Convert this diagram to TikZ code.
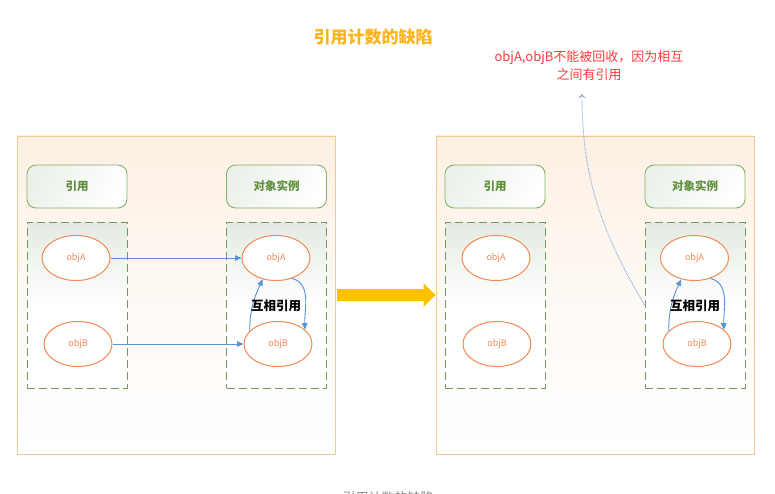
\documentclass[tikz,border=0pt]{standalone}
\usepackage{fontspec}
\setmainfont{Noto Sans CJK SC}
\usetikzlibrary{arrows.meta,shapes.geometric}
\definecolor{outerline}{HTML}{F2C98E}
\definecolor{peach}{HTML}{FDF0E3}
\definecolor{grn}{HTML}{82B366}
\definecolor{grntext}{HTML}{5E8F3C}
\definecolor{grnfill}{HTML}{E3EBE1}
\definecolor{dashgrn}{HTML}{6F9A5F}
\definecolor{orng}{HTML}{F48A52}
\definecolor{orngtext}{HTML}{F08A55}
\definecolor{blu}{HTML}{5A92D6}
\definecolor{dotblu}{HTML}{7FA6DE}
\definecolor{gold}{HTML}{FFC000}
\definecolor{titleorange}{HTML}{FFB31A}
\definecolor{notered}{HTML}{FF3B3B}
\definecolor{capgray}{HTML}{8A8A8A}
\tikzset{
  x=1pt, y=-1pt,
  outerbox/.style={draw=outerline, line width=0.9pt, top color=peach, bottom color=white, middle color=peach!40,
    minimum width=318pt, minimum height=318pt, inner sep=0pt},
  headbox/.style={draw=grn, line width=0.9pt, rounded corners=9pt, left color=grnfill!70, right color=white, shading angle=60,
    minimum width=100pt, minimum height=43pt, inner sep=0pt, font=\fontsize{11.5}{13}\selectfont\bfseries, text=grntext},
  dashbox/.style={draw=dashgrn, line width=0.9pt, dash pattern=on 8pt off 4pt, top color=grnfill, bottom color=white, middle color=white,
    minimum width=100pt, minimum height=166pt, inner sep=0pt},
  objell/.style={ellipse, draw=orng, line width=1pt, fill=white, minimum width=68pt, minimum height=45pt, inner sep=0pt,
    font=\fontsize{9}{10}\selectfont, text=orngtext},
  link/.style={draw=blu, line width=0.9pt, -{Triangle[length=6.5pt,width=5.5pt]}},
  mutual/.style={font=\fontsize{12.5}{14}\selectfont\bfseries, text=black},
  bigarrow/.style={draw=gold, line width=12pt, -{Triangle[length=12pt,width=23pt]}, shorten <=2pt},
  note/.style={font=\fontsize{13}{18}\selectfont, text=notered, align=center},
  dotlink/.style={draw=dotblu, line width=0.9pt, dash pattern=on 1pt off 1pt, -{To[length=4pt,width=7pt]}},
}
\begin{document}
\begin{tikzpicture}
\useasboundingbox (0,0) rectangle (775,494);
% panels
\node[outerbox] (oL) at (176,295) {};
\node[outerbox] (oR) at (595,295) {};
% left panel
\node[headbox] (hL1) at (77,186.5) {引用};
\node[headbox] (hL2) at (276.5,186.5) {对象实例};
\node[dashbox] (dL1) at (77,305) {};
\node[dashbox] (dL2) at (276.5,305) {};
\node[objell] (rAL) at (76,258) {objA};
\node[objell] (rBL) at (78,344) {objB};
\node[objell] (iAL) at (276,258) {objA};
\node[objell] (iBL) at (278,344) {objB};
\draw[link] (rAL) -- (iAL);
\draw[link] (rBL) -- (iBL);
\draw[link] (iAL.-52) to[out=-15,in=92] (iBL.28);
\draw[link] (iBL.155) to[out=90,in=-115] (iAL.-122);
\node[mutual] (mL) at (276,306) {互相引用};
% right panel
\node[headbox] (hR1) at (495,186.5) {引用};
\node[headbox] (hR2) at (695,186.5) {对象实例};
\node[dashbox] (dR1) at (495,305) {};
\node[dashbox] (dR2) at (695,305) {};
\node[objell] (rAR) at (496,258) {objA};
\node[objell] (rBR) at (497,344) {objB};
\node[objell] (iAR) at (694.5,258) {objA};
\node[objell] (iBR) at (697,344) {objB};
\draw[link] (iAR.-52) to[out=-15,in=92] (iBR.28);
\draw[link] (iBR.155) to[out=90,in=-115] (iAR.-122);
\node[mutual] (mR) at (695,306) {互相引用};
% big arrow
\draw[bigarrow] (oL.east) -- (oR.west);
% title and note
\node[font=\fontsize{17}{20}\selectfont\bfseries, text=titleorange] (title) at (373,37) {引用计数的缺陷};
\node[note] (noteT) at (589,66) {objA,objB不能被回收，因为相互\\之间有引用};
\coordinate (noteEnd) at (582,94);
\draw[dotlink] (dR2.west) .. controls (600,230) and (582,175) .. (noteEnd);
% caption
\node[font=\fontsize{13}{15}\selectfont, text=capgray] (cap) at (388,498) {引用计数的缺陷};
\end{tikzpicture}
\end{document}
